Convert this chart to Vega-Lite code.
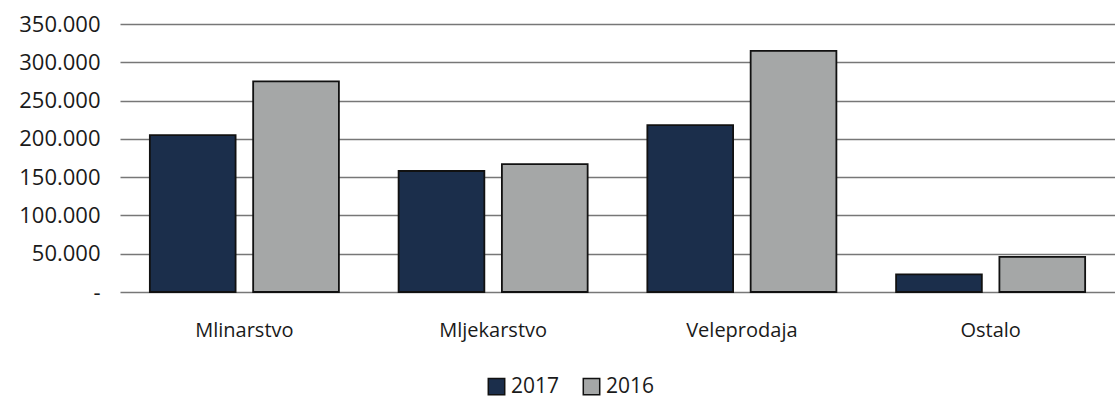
{
  "$schema": "https://vega.github.io/schema/vega-lite/v6.json",
  "width": 995,
  "height": 268,
  "autosize": {"type": "none"},
  "padding": {"left": 120, "top": 24, "right": 0, "bottom": 111},
  "background": "white",
  "config": {
    "view": {"stroke": null},
    "font": "Open Sans"
  },
  "data": {
    "values": [
      {"kategorija": "Mlinarstvo", "godina": "2017", "iznos": 205000},
      {"kategorija": "Mlinarstvo", "godina": "2016", "iznos": 275000},
      {"kategorija": "Mljekarstvo", "godina": "2017", "iznos": 158000},
      {"kategorija": "Mljekarstvo", "godina": "2016", "iznos": 167000},
      {"kategorija": "Veleprodaja", "godina": "2017", "iznos": 218000},
      {"kategorija": "Veleprodaja", "godina": "2016", "iznos": 315000},
      {"kategorija": "Ostalo", "godina": "2017", "iznos": 23000},
      {"kategorija": "Ostalo", "godina": "2016", "iznos": 46000}
    ]
  },
  "mark": {"type": "bar", "stroke": "#111111", "strokeWidth": 1.8},
  "encoding": {
    "x": {
      "field": "kategorija",
      "type": "nominal",
      "sort": ["Mlinarstvo", "Mljekarstvo", "Veleprodaja", "Ostalo"],
      "scale": {"paddingInner": 0.24, "paddingOuter": 0.12},
      "axis": {
        "title": null,
        "labelAngle": 0,
        "ticks": false,
        "domain": false,
        "labelFontSize": 20,
        "labelColor": "#1a1a1a",
        "labelPadding": 28
      }
    },
    "xOffset": {
      "field": "godina",
      "type": "nominal",
      "sort": ["2017", "2016"],
      "scale": {"paddingInner": 0.17, "paddingOuter": 0}
    },
    "y": {
      "field": "iznos",
      "type": "quantitative",
      "scale": {"domain": [0, 350000]},
      "axis": {
        "title": null,
        "values": [0, 50000, 100000, 150000, 200000, 250000, 300000, 350000],
        "labelExpr": "datum.value == 0 ? '-' : replace(format(datum.value, ',.0f'), ',', '.')",
        "domain": false,
        "ticks": false,
        "labelFontSize": 22,
        "labelColor": "#1a1a1a",
        "labelPadding": 20,
        "grid": true,
        "gridColor": "#777777",
        "gridWidth": 1.5
      }
    },
    "color": {
      "field": "godina",
      "type": "nominal",
      "sort": ["2017", "2016"],
      "scale": {"domain": ["2017", "2016"], "range": ["#1b2e4b", "#a5a7a7"]},
      "legend": {
        "title": null,
        "orient": "none",
        "legendX": 366,
        "legendY": 352,
        "direction": "horizontal",
        "symbolType": "square",
        "symbolSize": 270,
        "symbolStrokeColor": "#111111",
        "symbolStrokeWidth": 1.5,
        "labelFontSize": 21,
        "labelColor": "#1a1a1a",
        "columnPadding": 20,
        "labelOffset": 4
      }
    }
  }
}
